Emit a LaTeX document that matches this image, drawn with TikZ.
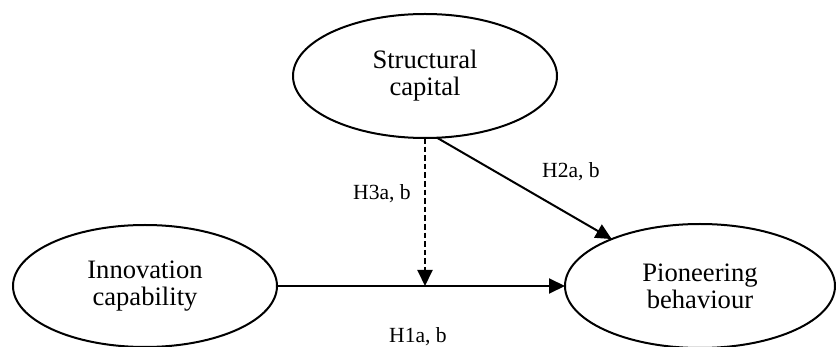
\documentclass[tikz,border=0pt]{standalone}
\usepackage{fontspec}
\setmainfont{Liberation Serif}
\usetikzlibrary{shapes.geometric,arrows.meta}
\begin{document}
\begin{tikzpicture}[x=0.5pt,y=-0.5pt,
  latent/.style={draw,ellipse,line width=1pt,inner sep=0pt,outer sep=0pt,align=center,
    font=\fontsize{13.3pt}{13.6pt}\selectfont},
  hyp/.style={font=\fontsize{10.8pt}{13pt}\selectfont,inner sep=0pt},
  link/.style={line width=1pt,-{Triangle[length=8pt,width=7.5pt]}},
  dlink/.style={link,dash pattern=on 2.8pt off 1.5pt}]
\useasboundingbox (0,0) rectangle (836,347);
\node[latent,minimum width=132pt,minimum height=62pt] (S) at (425,76) {Structural\\capital};
\node[latent,minimum width=132pt,minimum height=61pt] (I) at (145,286) {Innovation\\capability};
\node[latent,minimum width=135pt,minimum height=62pt] (P) at (700,286) {Pioneering\\behaviour};
\coordinate (m) at (425,286);
\draw[link] (I.east) -- (P.west);
\draw[dlink] (S.south) -- (m);
\draw[link] (S.-79) -- (P.152);
\node[hyp] (h3) at (382,194) {H3a, b};
\node[hyp] (h2) at (571,172) {H2a, b};
\node[hyp] (h1) at (418,337) {H1a, b};
\end{tikzpicture}
\end{document}
